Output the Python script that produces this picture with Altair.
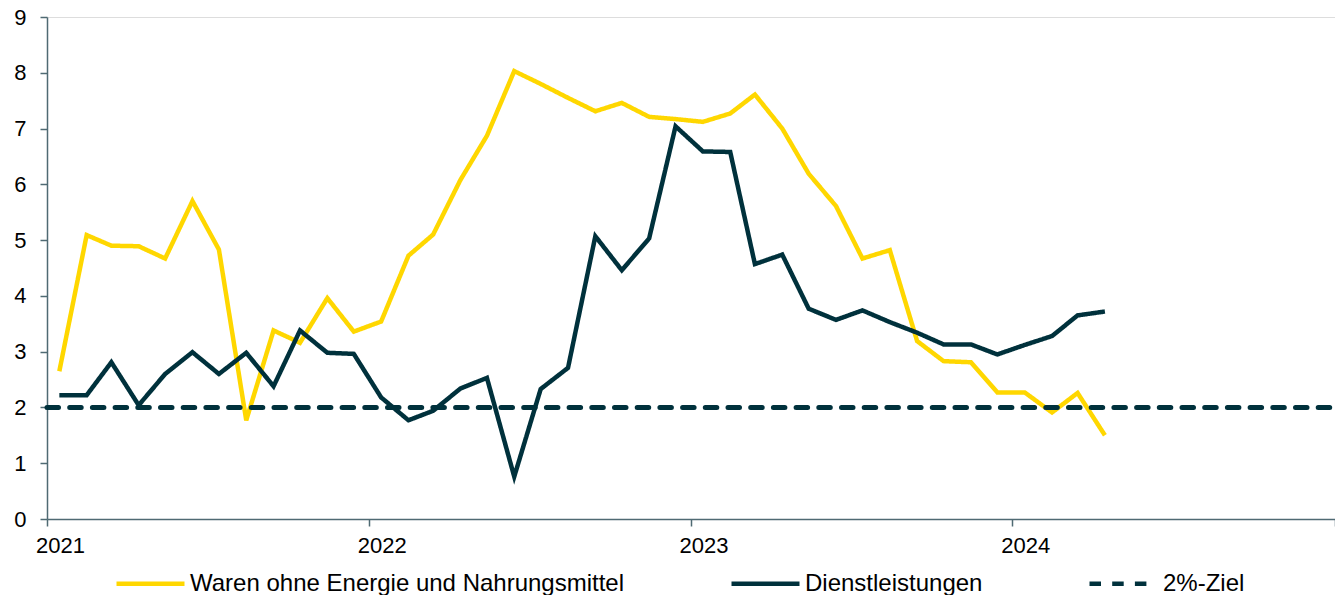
import altair as alt
import pandas as pd

# ---- data ----
months = [
    "2021-01-15", "2021-02-15", "2021-03-15", "2021-04-15", "2021-05-15", "2021-06-15",
    "2021-07-15", "2021-08-15", "2021-09-15", "2021-10-15", "2021-11-15", "2021-12-15",
    "2022-01-15", "2022-02-15", "2022-03-15", "2022-04-15", "2022-05-15", "2022-06-15",
    "2022-07-15", "2022-08-15", "2022-09-15", "2022-10-15", "2022-11-15", "2022-12-15",
    "2023-01-15", "2023-02-15", "2023-03-15", "2023-04-15", "2023-05-15", "2023-06-15",
    "2023-07-15", "2023-08-15", "2023-09-15", "2023-10-15", "2023-11-15", "2023-12-15",
    "2024-01-15", "2024-02-15", "2024-03-15", "2024-04-15",
]
waren = [
    2.65, 5.09, 4.90, 4.89, 4.67, 5.70, 4.83, 1.77, 3.38, 3.16, 3.96, 3.36,
    3.54, 4.72, 5.10, 6.08, 6.87, 8.03, 7.80, 7.55, 7.31, 7.46, 7.21, 7.17,
    7.12, 7.27, 7.61, 7.00, 6.19, 5.61, 4.67, 4.82, 3.19, 2.83, 2.81, 2.27,
    2.27, 1.91, 2.26, 1.50,
]
dienst = [
    2.22, 2.22, 2.81, 2.04, 2.60, 2.99, 2.60, 2.98, 2.38, 3.38, 2.98, 2.96,
    2.18, 1.77, 1.94, 2.34, 2.53, 0.76, 2.33, 2.71, 5.07, 4.46, 5.03, 7.04,
    6.59, 6.58, 4.57, 4.74, 3.77, 3.57, 3.74, 3.53, 3.34, 3.13, 3.13, 2.95,
    3.12, 3.28, 3.65, 3.72,
]
target_dates = ["2021-01-01", "2025-01-01"]
target_values = [2.0, 2.0]

series_names = ["Waren ohne Energie und Nahrungsmittel", "Dienstleistungen", "2%-Ziel"]
tick_years = [2021, 2022, 2023, 2024, 2025]
y_ticks = [0, 1, 2, 3, 4, 5, 6, 7, 8, 9]

# ---- build table ----
df = pd.concat([
    pd.DataFrame({"date": months, "value": waren, "series": series_names[0]}),
    pd.DataFrame({"date": months, "value": dienst, "series": series_names[1]}),
    pd.DataFrame({"date": target_dates, "value": target_values, "series": series_names[2]}),
], ignore_index=True)

YELLOW = "#FFD700"
DARK = "#00313C"
AXIS = "#4F6A73"
FONT = "Liberation Sans"

color_scale = alt.Scale(domain=series_names, range=[YELLOW, DARK, DARK])
dash_scale = alt.Scale(domain=series_names, range=[[1, 0], [1, 0], [11.5, 11.2]])

legend = alt.Legend(
    title=None, orient="none", legendX=67, legendY=530, direction="horizontal",
    symbolType="stroke", symbolSize=4624, symbolStrokeWidth=4.5,
    labelFont=FONT, labelFontSize=24, labelColor="black", labelOffset=3,
    labelLimit=700, columnPadding=97, padding=0,
)

x_enc = alt.X(
    "date:T",
    scale=alt.Scale(
        type="utc",
        domain=[alt.DateTime(year=tick_years[0], month=1, date=1, utc=True),
                alt.DateTime(year=tick_years[-1], month=1, date=1, utc=True)],
    ),
    axis=alt.Axis(
        values=[alt.DateTime(year=y, month=1, date=1, utc=True) for y in tick_years],
        format="%Y", formatType="utc",
        labelExpr="utcyear(datum.value) < 2025 ? datum.label : ''",
        labelOffset=13, labelAlign="center", labelFlush=False, labelOverlap=False,
        tickSize=7, labelPadding=9, grid=False, title=None,
        labelFont=FONT, labelFontSize=22, labelColor="black",
        domainColor=AXIS, tickColor=AXIS, domainWidth=1.5, tickWidth=1.5,
    ),
)
y_enc = alt.Y(
    "value:Q",
    scale=alt.Scale(domain=[0, 9], nice=False, zero=True),
    axis=alt.Axis(
        values=y_ticks, format="d", tickSize=7, labelPadding=14, grid=False, title=None,
        labelFont=FONT, labelFontSize=22, labelColor="black", labelFlush=False,
        domainColor=AXIS, tickColor=AXIS, domainWidth=1.5, tickWidth=1.5,
    ),
)

base = alt.Chart(df).encode(
    x=x_enc,
    y=y_enc,
    color=alt.Color("series:N", scale=color_scale, legend=legend, sort=series_names),
    strokeDash=alt.StrokeDash("series:N", scale=dash_scale, legend=legend, sort=series_names),
)

layers = []
widths = [4.5, 4.5, 5]
for name, w in zip(series_names, widths):
    cap = "round" if name == series_names[2] else "butt"
    layers.append(
        base.transform_filter(alt.datum.series == name)
        .mark_line(strokeWidth=w, strokeCap=cap, strokeJoin="miter")
    )

chart = alt.layer(*layers).properties(
    width=1288,
    height=502,
    autosize=alt.AutoSizeParams(type="none"),
    padding={"left": 39, "top": 9, "right": 0, "bottom": 76},
).configure_view(stroke=None).configure(background="white")

chart.save("out.html", embed_options={"renderer": "svg", "actions": False})
